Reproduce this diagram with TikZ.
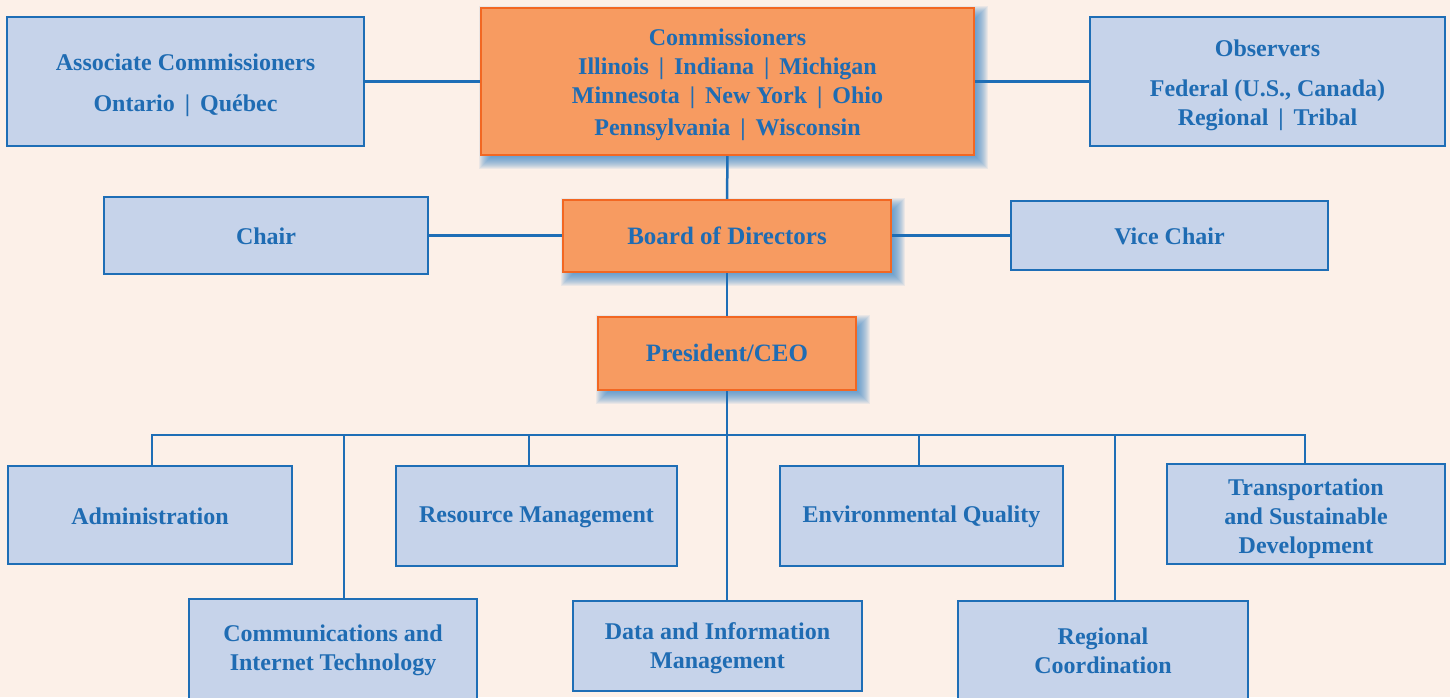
\documentclass[tikz,border=0pt]{standalone}
\usepackage{fontspec}
\newfontfamily\gar{Liberation Serif}
\usetikzlibrary{calc}
\pgfdeclarelayer{bg}
\pgfdeclarelayer{shadow}
\pgfdeclarelayer{lines}
\pgfsetlayers{bg,shadow,lines,main}
\definecolor{bgc}{HTML}{FCF0E8}
\definecolor{bfill}{HTML}{C6D3EA}
\definecolor{bline}{HTML}{1E6EB6}
\definecolor{btext}{HTML}{1F6CB3}
\definecolor{ofill}{HTML}{F79B61}
\definecolor{oline}{HTML}{F26722}
\definecolor{shadowc}{HTML}{3A85C8}
\begin{document}
\begin{tikzpicture}[x=1pt,y=-1pt,
  box/.style={draw=bline, fill=bfill, line width=2.6pt, inner sep=0pt, outer sep=0pt},
  obox/.style={box, draw=oline, fill=ofill},
  txt/.style={align=center, text=btext, inner sep=0pt,
    font={\gar\bfseries\fontsize{24}{29}\selectfont}},
  lmtxt/.style={txt, font={\gar\bfseries\fontsize{25}{29}\selectfont}},
  conn/.style={draw=bline, line width=2.5pt},
]
\begin{pgfonlayer}{bg}
\fill[bgc] (0,0) rectangle (1450,697);
\end{pgfonlayer}
\useasboundingbox (0,0) rectangle (1450,697);

% top row
\node[box, minimum width=357, minimum height=129] (assoc) at (185.5,81.5) {};
\node[txt] (assoc-t) at ([yshift=-4pt]assoc.center)
  {Associate Commissioners\\[12pt]Ontario \,|\, Québec};
\node[obox, minimum width=493, minimum height=147] (comm) at (727.5,81.5) {};
\node[txt] (comm-t) at ([yshift=-3pt]comm.center)
  {Commissioners\\Illinois \,|\, Indiana \,|\, Michigan\\Minnesota \,|\, New York \,|\, Ohio\\[3pt]Pennsylvania \,|\, Wisconsin};
\node[box, minimum width=355, minimum height=129] (obs) at (1267.5,81.5) {};
\node[txt] (obs-t) at ([yshift=-4pt]obs.center)
  {Observers\\[11pt]Federal (U.S., Canada)\\Regional \,|\, Tribal};

% second row
\node[box, minimum width=324, minimum height=77] (chair) at (266,235.5) {};
\node[txt] (chair-t) at ([yshift=-1pt]chair.center) {Chair};
\node[obox, minimum width=328, minimum height=72] (board) at (727,236) {};
\node[lmtxt] (board-t) at (board.center) {Board of Directors};
\node[box, minimum width=317, minimum height=69] (vice) at (1169.5,235.5) {};
\node[txt] (vice-t) at ([yshift=-1pt]vice.center) {Vice Chair};

% president
\node[obox, minimum width=258, minimum height=73] (pres) at (727,353.5) {};
\node[lmtxt] (pres-t) at ([yshift=1pt]pres.center) {President/CEO};

% departments
\node[box, minimum width=284, minimum height=98] (admin) at (150,515) {};
\node[txt] (admin-t) at ([yshift=-1pt]admin.center) {Administration};
\node[box, minimum width=281, minimum height=100] (res) at (536.5,516) {};
\node[txt] (res-t) at ([yshift=-1pt]res.center) {Resource Management};
\node[box, minimum width=283, minimum height=100] (env) at (921.5,516) {};
\node[txt] (env-t) at ([yshift=-1pt]env.center) {Environmental Quality};
\node[box, minimum width=278, minimum height=100] (trans) at (1306,514) {};
\node[txt] (trans-t) at ([yshift=-5pt]trans.center) {Transportation\\and Sustainable\\Development};
\node[box, minimum width=288, minimum height=101] (commit) at (333,649.5) {};
\node[txt] (commit-t) at ([yshift=-1pt]commit.center) {Communications and\\Internet Technology};
\node[box, minimum width=289, minimum height=90] (data) at (717.5,646) {};
\node[txt] (data-t) at ([yshift=-2pt]data.center) {Data and Information\\Management};
\node[box, minimum width=290, minimum height=99] (reg) at (1103,650.5) {};
\node[txt] (reg-t) at (reg.center) {Regional\\Coordination};

% shadows
\begin{pgfonlayer}{shadow}
\foreach \n in {comm,board,pres}{
  \foreach \e in {-8,...,8}{
    \fill[shadowc, opacity=0.09] ($(\n.north west)+(6-\e,6-\e)$) rectangle ($(\n.south east)+(6+\e,6+\e)$);
  }
}
\end{pgfonlayer}

% connectors
\coordinate (d1) at (152,435);
\coordinate (d2) at (344,435);
\coordinate (d3) at (529,435);
\coordinate (d4) at (919,435);
\coordinate (d5) at (1115,435);
\coordinate (d6) at (1305,435);
\begin{pgfonlayer}{lines}
\draw[conn] (assoc.east) -- (assoc.east -| comm.west);
\draw[conn] (obs.west) -- (obs.west -| comm.east);
\draw[conn] (comm.south) -- (board.north);
\draw[conn] (chair.east) -- (chair.east -| board.west);
\draw[conn] (vice.west) -- (vice.west -| board.east);
\draw[conn] (board.south) -- (pres.north);
\draw[conn] (pres.south) -- (pres.south |- data.north);
\draw[conn] (d1 |- admin.north) -- (d1) -- (d6) -- (d6 |- trans.north);
\draw[conn] (d2) -- (d2 |- commit.north);
\draw[conn] (d3) -- (d3 |- res.north);
\draw[conn] (d4) -- (d4 |- env.north);
\draw[conn] (d5) -- (d5 |- reg.north);
\end{pgfonlayer}
\end{tikzpicture}
\end{document}
